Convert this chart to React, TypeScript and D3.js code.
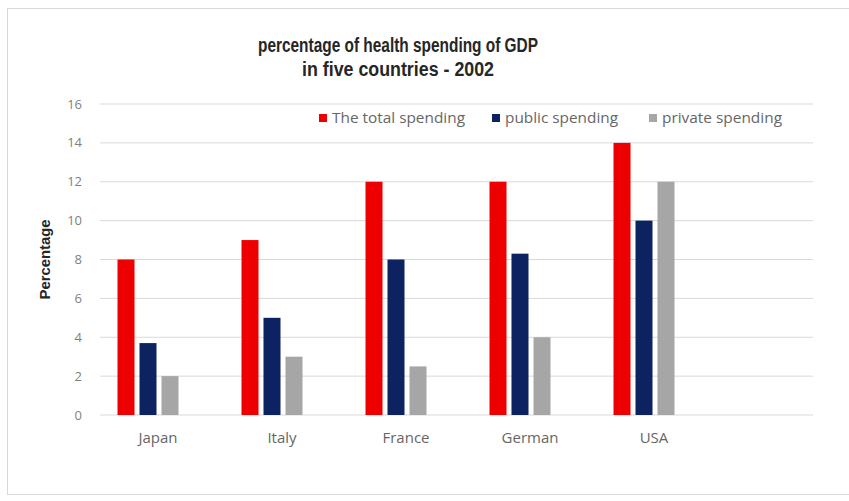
import React from "react";
import * as d3 from "d3";

const categories = ["Japan", "Italy", "France", "German", "USA"];
const seriesNames = ["The total spending", "public spending", "private spending"];
const totalSpending = [8, 9, 12, 12, 14];
const publicSpending = [3.7, 5, 8, 8.3, 10];
const privateSpending = [2, 3, 2.5, 4, 12];
const yTicks = [0, 2, 4, 6, 8, 10, 12, 14, 16];
const titleLines = ["percentage of health spending of GDP", "in five countries - 2002"];
const yAxisTitle = "Percentage";

const colors = ["#ee0000", "#0d2260", "#a6a6a6"];

export default function App() {
  const W = 849, H = 501;
  const slots = [...categories, "__empty__"];
  const x0 = d3.scaleBand<string>().domain(slots).range([86, 830]);
  const groupW = 61;
  const x1 = d3.scaleBand<string>().domain(seriesNames).range([0, groupW]).paddingInner(0.227);
  const y = d3.scaleLinear().domain([0, 16]).range([415, 104]);
  const seriesValues = [totalSpending, publicSpending, privateSpending];
  const font = "'Open Sans', 'Liberation Sans', sans-serif";
  const titleFont = "'Liberation Sans', sans-serif";
  const legendX = [319, 492, 649];
  const legendW = [133, 113, 120];
  const titleW = [280, 192];

  return (
    <div style={{ position: "absolute", left: 0, top: 0 }}>
      <svg width={W} height={H} style={{ display: "block", background: "#fff" }}>
        <rect x={7.5} y={8.5} width={850} height={486} fill="#fff" stroke="#d9d9d9" strokeWidth={1} />
        {titleLines.map((t, i) => (
          <text key={i} x={398} y={52 + i * 24} textAnchor="middle" fontFamily={titleFont}
            fontWeight="bold" fontSize={20} fill="#262626" textLength={titleW[i]}
            lengthAdjust="spacingAndGlyphs">{t}</text>
        ))}
        {yTicks.map((t) => (
          <g key={t}>
            <line x1={100} x2={813} y1={y(t)} y2={y(t)} stroke="#d9d9d9" strokeWidth={1} />
            <text x={82} y={y(t)} dy="0.35em" textAnchor="end" fontFamily={font} fontSize={13} fill="#7f7f7f">{t}</text>
          </g>
        ))}
        <text transform={`translate(50,${y(8)}) rotate(-90)`} textAnchor="middle" fontFamily={titleFont}
          fontWeight="bold" fontSize={15} fill="#262626" textLength={80} lengthAdjust="spacingAndGlyphs">{yAxisTitle}</text>
        {categories.map((c, ci) => {
          const cx = (x0(c) as number) + x0.bandwidth() / 2;
          const gx = cx - groupW / 2;
          return (
            <g key={c}>
              {seriesNames.map((s, si) => {
                const v = seriesValues[si][ci];
                return (
                  <rect key={s} x={gx + (x1(s) as number)} y={y(v)} width={x1.bandwidth()}
                    height={y(0) - y(v)} fill={colors[si]} />
                );
              })}
              <text x={cx + 10} y={443} textAnchor="middle" fontFamily={font} fontSize={15} fill="#666">{c}</text>
            </g>
          );
        })}
        {seriesNames.map((s, si) => (
          <g key={s} transform={`translate(${legendX[si]},118)`}>
            <rect x={0} y={-4} width={8} height={8} fill={colors[si]} />
            <text x={13} y={0} dy="0.35em" fontFamily={font} fontSize={14} fill="#666"
              textLength={legendW[si]} lengthAdjust="spacingAndGlyphs">{s}</text>
          </g>
        ))}
      </svg>
    </div>
  );
}
